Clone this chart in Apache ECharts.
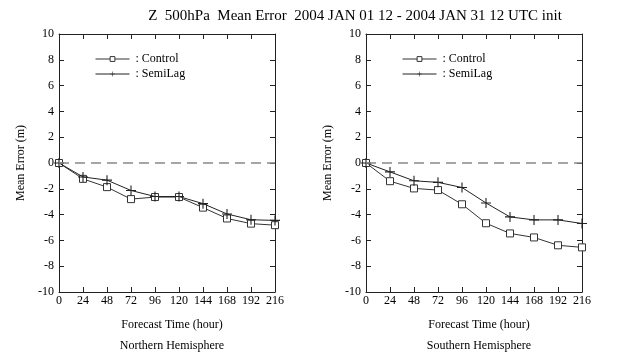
<!DOCTYPE html>
<html>
<head>
<meta charset="utf-8">
<title>Z 500hPa Mean Error</title>
<script src="https://cdn.jsdelivr.net/npm/echarts@6/dist/echarts.min.js"></script>
<style>
  * { margin: 0; padding: 0 }
  html, body { width: 100%; height: 100%; background: #fff; }
  #main { width: 622px; height: 352px; }
</style>
</head>
<body>
<div id="main"></div>
<script>
// forecast hours
var hours = [0, 24, 48, 72, 96, 120, 144, 168, 192, 216];
// Northern Hemisphere
var nhControl = [0, -1.23, -1.87, -2.8, -2.64, -2.64, -3.46, -4.3, -4.7, -4.82];
var nhSemiLag = [0, -1.08, -1.33, -2.13, -2.6, -2.6, -3.15, -3.95, -4.4, -4.45];
// Southern Hemisphere
var shControl = [0, -1.41, -1.97, -2.1, -3.2, -4.67, -5.46, -5.77, -6.38, -6.54];
var shSemiLag = [0, -0.69, -1.38, -1.5, -1.9, -3.1, -4.18, -4.41, -4.41, -4.69];
var panelNames = ['Northern Hemisphere', 'Southern Hemisphere'];

var serif = 'Liberation Serif';
var plusPath = 'path://M4.45,0H5.55V10H4.45ZM0,4.45H10V5.55H0Z';

function pairs(ys) {
  return hours.map(function (h, i) { return [h, ys[i]]; });
}

var chart = echarts.init(document.getElementById('main'));

var grids = [
  { left: 59, top: 34, width: 216, height: 258 },
  { left: 366, top: 34, width: 216, height: 258 }
];

var axisLine = { show: true, onZero: false, lineStyle: { color: '#222', width: 1 } };
var tick = { inside: true, length: 5, lineStyle: { color: '#222' } };

var xAxes = [], yAxes = [], series = [], legends = [], titles = [];
titles.push({
  text: 'Z  500hPa  Mean Error  2004 JAN 01 12 - 2004 JAN 31 12 UTC init',
  left: 350, top: 4, textAlign: 'center',
  textStyle: { fontFamily: serif, fontSize: 15, fontWeight: 'normal', color: '#000' }
});

[0, 1].forEach(function (g) {
  var ctrl = g === 0 ? nhControl : shControl;
  var semi = g === 0 ? nhSemiLag : shSemiLag;
  var cx = grids[g].left + 108;
  titles.push({
    text: 'Forecast Time (hour)', left: cx, top: 314, textAlign: 'center',
    textStyle: { fontFamily: serif, fontSize: 12, fontWeight: 'normal', color: '#000' }
  });
  titles.push({
    text: panelNames[g], left: cx, top: 335, textAlign: 'center',
    textStyle: { fontFamily: serif, fontSize: 12, fontWeight: 'normal', color: '#000' }
  });
  // bottom x axis
  xAxes.push({
    type: 'value', gridIndex: g, min: 0, max: 216, interval: 24, position: 'bottom',
    axisLine: axisLine, axisTick: tick,
    axisLabel: { fontFamily: serif, fontSize: 12, color: '#000', margin: 3 },
    splitLine: { show: false }
  });
  // top x axis (ticks only)
  xAxes.push({
    type: 'value', gridIndex: g, min: 0, max: 216, interval: 24, position: 'top',
    axisLine: axisLine, axisTick: tick,
    axisLabel: { show: false }, splitLine: { show: false }
  });
  yAxes.push({
    type: 'value', gridIndex: g, min: -10, max: 10, interval: 2, position: 'left',
    name: 'Mean Error (m)', nameLocation: 'middle', nameGap: 32, nameRotate: 90,
    nameTextStyle: { fontFamily: serif, fontSize: 12, color: '#000' },
    axisLine: axisLine, axisTick: tick,
    axisLabel: { fontFamily: serif, fontSize: 12, color: '#000', margin: 5 },
    splitLine: { show: false }
  });
  yAxes.push({
    type: 'value', gridIndex: g, min: -10, max: 10, interval: 2, position: 'right',
    axisLine: axisLine, axisTick: tick,
    axisLabel: { show: false }, splitLine: { show: false }
  });
  series.push({
    name: 'Control', type: 'line', xAxisIndex: g * 2, yAxisIndex: g * 2,
    data: pairs(ctrl), symbol: 'rect', symbolSize: 7, showAllSymbol: true,
    lineStyle: { color: '#333', width: 1 },
    itemStyle: { color: '#fff', borderColor: '#333', borderWidth: 1 },
    markLine: {
      silent: true, symbol: 'none', label: { show: false },
      lineStyle: { color: '#888', type: [10, 6], width: 1.5 },
      data: [{ yAxis: 0 }]
    },
    z: 3
  });
  series.push({
    name: 'SemiLag', type: 'line', xAxisIndex: g * 2, yAxisIndex: g * 2,
    data: pairs(semi), symbol: plusPath, symbolSize: 10, showAllSymbol: true,
    lineStyle: { color: '#222', width: 1 },
    itemStyle: { color: '#222' },
    z: 4
  });
  legends.push({
    left: grids[g].left + 31, top: 48, orient: 'vertical', itemGap: 3,
    itemWidth: 34, itemHeight: 6,
    data: ['Control', 'SemiLag'],
    formatter: ': {name}',
    selectedMode: false,
    lineStyle: { width: 1 },
    itemStyle: { borderWidth: 1 },
    textStyle: { fontFamily: serif, fontSize: 12, color: '#000', padding: [0, 0, 0, 1] }
  });
});

chart.setOption({
  animation: false,
  title: titles,
  grid: grids,
  xAxis: xAxes,
  yAxis: yAxes,
  legend: legends,
  series: series
});
</script>
</body>
</html>
